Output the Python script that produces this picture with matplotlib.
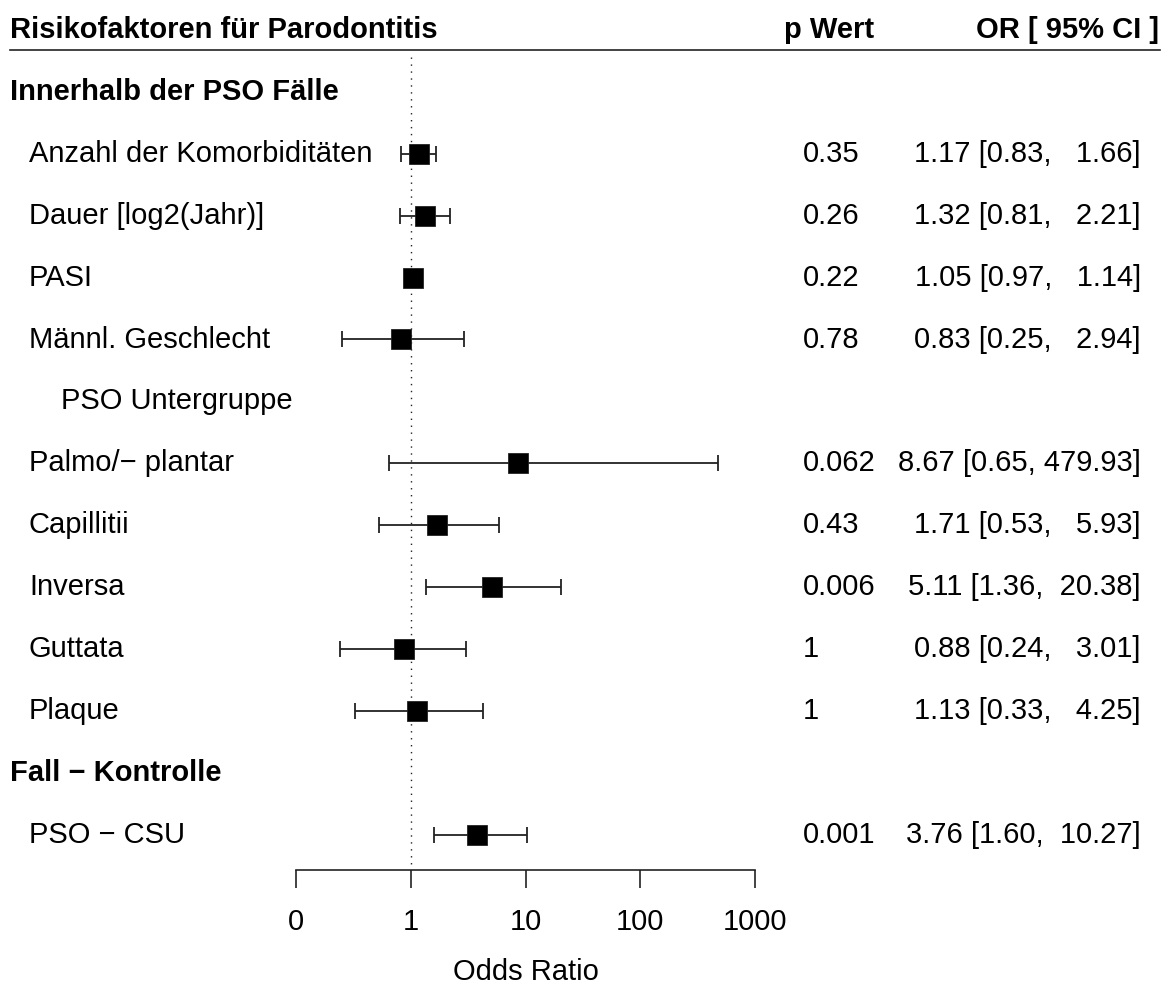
import matplotlib
matplotlib.use("Agg")
import matplotlib.pyplot as plt
import matplotlib.transforms as mtransforms
import numpy as np

# ---- data ----
labels = ["Innerhalb der PSO Fälle", "Anzahl der Komorbiditäten", "Dauer [log2(Jahr)]",
          "PASI", "Männl. Geschlecht", "PSO Untergruppe", "Palmo/\u2212 plantar",
          "Capillitii", "Inversa", "Guttata", "Plaque", "Fall \u2212 Kontrolle",
          "PSO \u2212 CSU"]
kinds = ["group", "item", "item", "item", "item", "sub", "item", "item", "item",
         "item", "item", "group", "item"]
odds = [None, 1.17, 1.32, 1.05, 0.83, None, 8.67, 1.71, 5.11, 0.88, 1.13, None, 3.76]
lower = [None, 0.83, 0.81, 0.97, 0.25, None, 0.65, 0.53, 1.36, 0.24, 0.33, None, 1.60]
upper = [None, 1.66, 2.21, 1.14, 2.94, None, 479.93, 5.93, 20.38, 3.01, 4.25, None, 10.27]
pvals = ["", "0.35", "0.26", "0.22", "0.78", "", "0.062", "0.43", "0.006", "1", "1", "", "0.001"]
tick_vals = [0.1, 1, 10, 100, 1000]
tick_labels = ["0", "1", "10", "100", "1000"]
header_left = "Risikofaktoren für Parodontitis"
header_p = "p Wert"
header_or = "OR [ 95% CI ]"
xlabel = "Odds Ratio"

W, H = 1168, 988
FONT = "Liberation Sans"
FS = 21
fig = plt.figure(figsize=(W / 100, H / 100), dpi=100)

# pixel geometry
y0px, dy = 30.0, 61.9
def row_of(py):
    return (py - y0px) / dy

TOFF = -3.0 / dy  # text vertical nudge

ax = fig.add_axes([296 / W, 0, (755 - 296) / W, 1])
ax.set_xscale("log")
ax.set_xlim(0.1, 1000)
ax.set_ylim(row_of(H), row_of(0))
ax.patch.set_visible(False)

tr = mtransforms.blended_transform_factory(fig.transFigure, ax.transData)

rows = np.arange(1, len(labels) + 1)
lab_x = {"group": 10 / W, "item": 29 / W, "sub": 61 / W}
for r, lab, k in zip(rows, labels, kinds):
    ax.text(lab_x[k], r + TOFF, lab, transform=tr, ha="left", va="center_baseline",
            fontsize=FS, family=FONT, fontweight="bold" if k == "group" else "normal")

# header
ax.text(10 / W, 0 + TOFF, header_left, transform=tr, ha="left", va="center_baseline",
        fontsize=FS, family=FONT, fontweight="bold")
ax.text(784 / W, 0 + TOFF, header_p, transform=tr, ha="left", va="center_baseline",
        fontsize=FS, family=FONT, fontweight="bold")
ax.text(1159 / W, 0 + TOFF, header_or, transform=tr, ha="right", va="center_baseline",
        fontsize=FS, family=FONT, fontweight="bold")
ax.plot([10 / W, 1160 / W], [row_of(50), row_of(50)], transform=tr, color="#222222",
        lw=1.2, clip_on=False)

# reference line
ax.plot([1, 1], [row_of(57), row_of(870)], color="#222222", lw=1.0,
        linestyle=(0, (1, 4)), clip_on=False)

# CIs and boxes
for r, o, lo, hi, p in zip(rows, odds, lower, upper, pvals):
    if o is None:
        continue
    ax.errorbar([o], [r], xerr=[[o - lo], [hi - o]], fmt="none", ecolor="#222222",
                elinewidth=1.3, capsize=5.5, capthick=1.3, clip_on=False)
    ax.plot([o], [r], marker="s", markersize=14.5, color="black",
            markeredgecolor="#222222", markeredgewidth=0.6, clip_on=False, zorder=5)
    ax.text(803 / W, r + TOFF, p, transform=tr, ha="left", va="center_baseline",
            fontsize=FS, family=FONT)
    ax.text(1141 / W, r + TOFF, f"{o:.2f} [{lo:.2f}, {hi:6.2f}]", transform=tr, ha="right",
            va="center_baseline", fontsize=FS, family=FONT)

# x axis
for s in ["top", "left", "right"]:
    ax.spines[s].set_visible(False)
ax.spines["bottom"].set_position(("data", row_of(870)))
ax.spines["bottom"].set_bounds(0.1, 1000)
ax.spines["bottom"].set_color("#222222")
ax.spines["bottom"].set_linewidth(1.2)
ax.set_yticks([])
ax.set_xticks(tick_vals)
ax.set_xticklabels(tick_labels, fontsize=FS, family=FONT)
ax.xaxis.set_minor_locator(matplotlib.ticker.NullLocator())
ax.tick_params(axis="x", direction="out", length=13, width=1.2, color="#222222", pad=14)
ax.text(0.5, row_of(972) + TOFF, xlabel,
        transform=mtransforms.blended_transform_factory(ax.transAxes, ax.transData),
        ha="center", va="center_baseline", fontsize=FS, family=FONT)

fig.savefig("out.png", dpi=100)
